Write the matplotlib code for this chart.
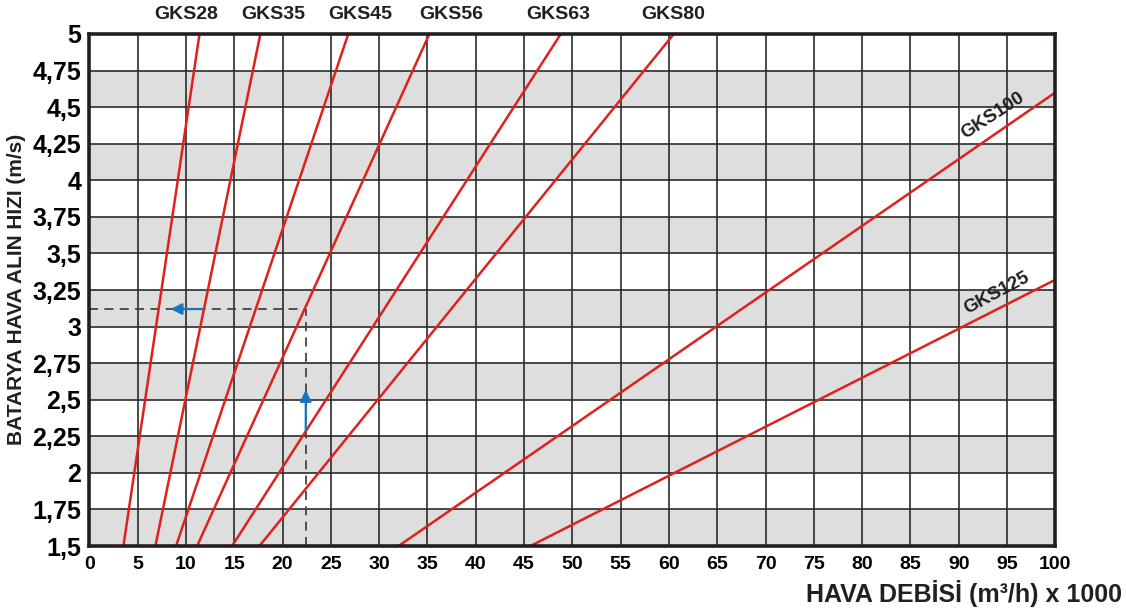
import numpy as np
import matplotlib.pyplot as plt

plt.rcParams['font.family'] = ['Liberation Sans', 'DejaVu Sans']
plt.rcParams['font.weight'] = 'bold'

# Batarya modelleri: alt uc (v=1.5) ve ust uc noktalari
models = ['GKS28', 'GKS35', 'GKS45', 'GKS56', 'GKS63', 'GKS80', 'GKS100', 'GKS125']
x_start = [3.52, 6.83, 8.97, 11.15, 14.77, 17.6, 32.0, 45.65]
y_start = [1.5, 1.5, 1.5, 1.5, 1.5, 1.5, 1.5, 1.5]
x_end = [11.4, 17.7, 26.8, 35.2, 48.8, 60.5, 100, 100]
y_end = [5, 5, 5, 5, 5, 5, 4.6, 3.32]

# Etiket konumlari
top_label_x = [10.07, 19.04, 28.0, 37.5, 48.5, 60.4]
side_labels = ['GKS100', 'GKS125']
side_label_xy = [(93.5, 4.44), (93.9, 3.23)]
side_label_rot = [33, 28]

# Ornek okuma (kesikli cizgiler)
ex_flow = 22.4
ex_vel = 3.12

x_ticks = np.arange(0, 101, 5)
y_ticks = np.arange(1.5, 5.01, 0.25)
y_tick_labels = ['1,5', '1,75', '2', '2,25', '2,5', '2,75', '3', '3,25',
                 '3,5', '3,75', '4', '4,25', '4,5', '4,75', '5']

fig = plt.figure(figsize=(11.26, 6.09), dpi=100)
ax = fig.add_axes([0.0794, 0.1034, 0.8578, 0.8408])

# gri bantlar
for lo in np.arange(1.5, 5, 0.5):
    ax.axhspan(lo, lo + 0.25, color='#dedede', zorder=0, lw=0)

ax.set_xlim(0, 100)
ax.set_ylim(1.5, 5)
ax.set_xticks(x_ticks)
ax.set_yticks(y_ticks)
ax.set_yticklabels(y_tick_labels)
ax.tick_params(axis='y', length=0, pad=6, labelsize=18)
ax.tick_params(axis='x', length=0, pad=7, labelsize=14)
ax.grid(True, color='#2b2b2b', lw=1.2, zorder=1)
ax.set_axisbelow(True)
for sp in ax.spines.values():
    sp.set_linewidth(2.6)
    sp.set_color('#231f20')
    sp.set_zorder(6)

# kesikli okuma cizgileri
ax.plot([0, ex_flow], [ex_vel, ex_vel], color='#444444', lw=1.3,
        dashes=(5, 3.5), zorder=2)
ax.plot([ex_flow, ex_flow], [1.5, ex_vel], color='#444444', lw=1.3,
        dashes=(5, 3.5), zorder=2)

for i in range(len(models)):
    ax.plot([x_start[i], x_end[i]], [y_start[i], y_end[i]],
            color='#e0211b', lw=1.8, zorder=3, solid_capstyle='butt')

for i in range(6):
    ax.text(top_label_x[i], 5.13, models[i], ha='center', va='center',
            fontsize=14, fontweight='bold', color='#231f20', clip_on=False)

for i in range(2):
    ax.text(side_label_xy[i][0], side_label_xy[i][1], side_labels[i],
            ha='center', va='center', rotation=side_label_rot[i],
            fontsize=13.5, fontweight='bold', color='#231f20', zorder=5)

# mavi oklar
arrow_kw = dict(arrowstyle='-|>', color='#1b75bc', lw=1.6, mutation_scale=17,
                shrinkA=0, shrinkB=0)
ax.annotate('', xy=(8.4, ex_vel), xytext=(11.8, ex_vel), arrowprops=arrow_kw,
            zorder=4)
ax.annotate('', xy=(ex_flow, 2.567), xytext=(ex_flow, 2.29),
            arrowprops=arrow_kw, zorder=4)

fig.text(0.0147, 0.525, 'BATARYA HAVA ALIN HIZI (m/s)', rotation=90,
         ha='center', va='center', fontsize=15, fontweight='bold',
         color='#231f20')
fig.text(0.9964, 0.026, 'HAVA DEBİSİ (m³/h) x 1000', ha='right',
         va='center', fontsize=18, fontweight='bold', color='#231f20')

fig.savefig('out.png', dpi=100)
